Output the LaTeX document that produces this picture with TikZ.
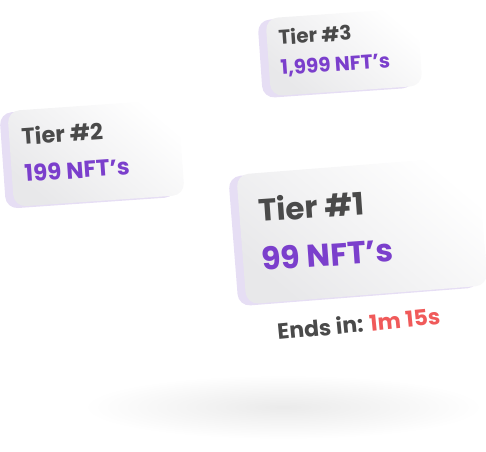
\documentclass[tikz,border=0pt]{standalone}
\usepackage{fontspec}
\setmainfont{Poppins}
\usetikzlibrary{shadows}
\definecolor{tiergray}{HTML}{4A4A4A}
\definecolor{nftpurple}{HTML}{7B3FCC}
\definecolor{timered}{HTML}{F05A5A}
\definecolor{cardside}{HTML}{E6DEF4}
\definecolor{cardshade}{HTML}{E8E8EA}
\tikzset{
	card/.style={rounded corners=12pt, inner sep=0pt,
		top color=white, bottom color=cardshade, shading angle=-40,
		general shadow={fill=cardside, shadow xshift=-8pt, shadow yshift=-2pt}},
	tier/.style={anchor=base west, inner sep=0pt, text=tiergray, font=\bfseries\fontsize{#1}{#1}\selectfont},
	count/.style={anchor=base west, inner sep=0pt, text=nftpurple, font=\bfseries\fontsize{#1}{#1}\selectfont}
}
\begin{document}
\begin{tikzpicture}[x=1pt, y=-1pt]
	\useasboundingbox (0, 0) rectangle (486, 451);
	% floor shadow
	\shade[inner color=black!8, outer color=white] (283, 407) ellipse [x radius=200, y radius=32];
	% cards
	\node[card, minimum width=152pt, minimum height=78pt, rotate=4] (card3) at (344, 52) {};
	\node[card, minimum width=171pt, minimum height=96pt, rotate=4] (card2) at (96, 153) {};
	\node[card, minimum width=242pt, minimum height=130pt, rotate=4.5] (card1) at (362, 230) {};
	% texts
	\node[tier=20, rotate=4] (tier3) at (279, 45) {Tier \#3};
	\node[count=20, rotate=4] (nft3) at (281, 75) {1,999 NFT’s};
	\node[tier=22.5, rotate=4] (tier2) at (22, 145) {Tier \#2};
	\node[count=23, rotate=4] (nft2) at (25, 182) {199 NFT’s};
	\node[tier=31, rotate=4] (tier1) at (259, 222) {Tier \#1};
	\node[count=31.5, rotate=4] (nft1) at (262, 271) {99 NFT’s};
	\node[tier=22, rotate=5.5] (ends) at (278, 340) {Ends in: \textcolor{timered}{1m 15s}};
\end{tikzpicture}
\end{document}
